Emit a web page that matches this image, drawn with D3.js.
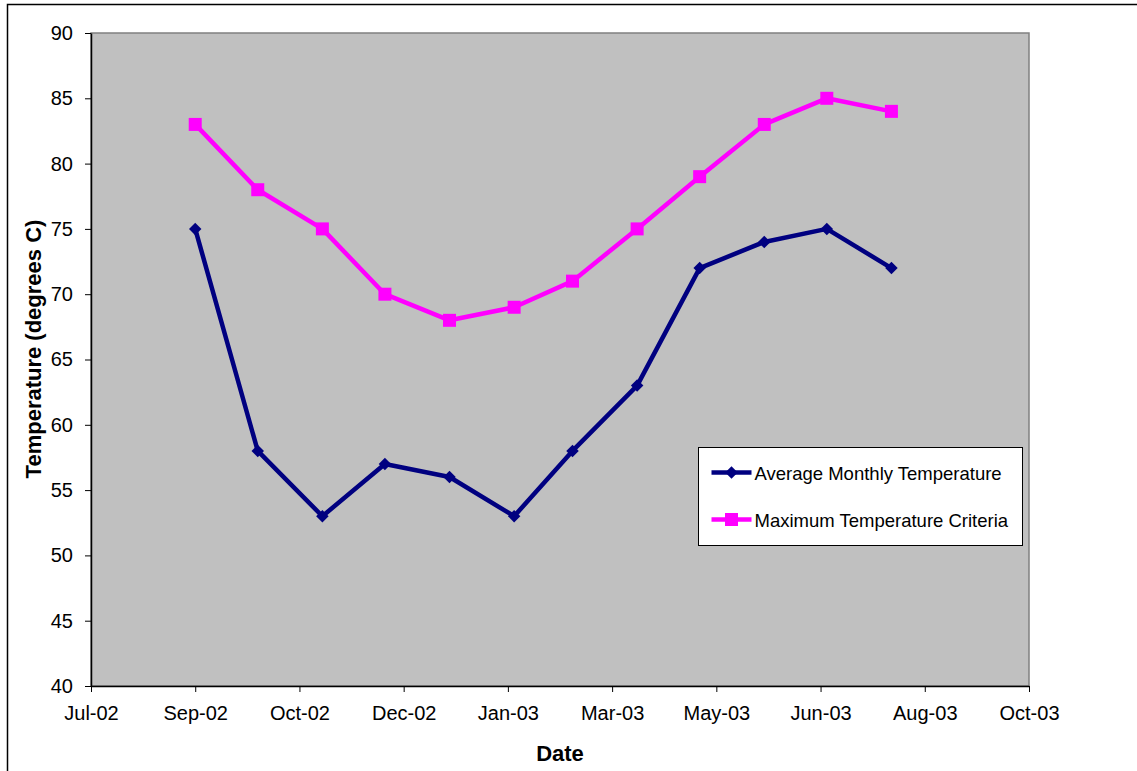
<!DOCTYPE html>
<html>
<head>
<meta charset="utf-8">
<script src="https://cdn.jsdelivr.net/npm/d3@7"></script>
<style>
  body { margin: 0; background: #fff; }
  svg text { font-family: "Liberation Sans", Arial, sans-serif; fill: #000; }
</style>
</head>
<body>
<div id="chart"></div>
<script>
// monthly readings, first of each month
var months = ["2002-09-01", "2002-10-01", "2002-11-01", "2002-12-01", "2003-01-01", "2003-02-01",
              "2003-03-01", "2003-04-01", "2003-05-01", "2003-06-01", "2003-07-01", "2003-08-01"];
var avgTemp = [75, 58, 53, 57, 56, 53, 58, 63, 72, 74, 75, 72];
var maxCriteria = [83, 78, 75, 70, 68, 69, 71, 75, 79, 83, 85, 84];
// excel style axis: 50 day steps
var xTicks = ["2002-07-13", "2002-09-01", "2002-10-21", "2002-12-10", "2003-01-29",
              "2003-03-20", "2003-05-09", "2003-06-28", "2003-08-17", "2003-10-06"];
var yTicks = [40, 45, 50, 55, 60, 65, 70, 75, 80, 85, 90];
var seriesNames = ["Average Monthly Temperature", "Maximum Temperature Criteria"];

var parse = d3.timeParse("%Y-%m-%d");
var width = 1137, height = 771;
var margin = { top: 33, right: 108, bottom: 85, left: 91 };
var w = width - margin.left - margin.right;
var h = height - margin.top - margin.bottom;

var svg = d3.select("#chart").append("svg")
    .attr("width", width)
    .attr("height", height);

// chart frame (runs off the right and bottom edge)
svg.append("rect")
    .attr("x", 7.5).attr("y", 4.5)
    .attr("width", 1140).attr("height", 780)
    .attr("fill", "#fff")
    .attr("stroke", "#000").attr("stroke-width", 1.5);

var g = svg.append("g").attr("transform", "translate(" + margin.left + "," + margin.top + ")");

var x = d3.scaleTime()
    .domain([parse(xTicks[0]), parse(xTicks[xTicks.length - 1])])
    .range([0, w]);
var y = d3.scaleLinear().domain([40, 90]).range([h, 0]);

g.append("rect")
    .attr("width", w).attr("height", h)
    .attr("fill", "#c0c0c0")
    .attr("stroke", "#808080").attr("stroke-width", 1.5);

var xAxis = d3.axisBottom(x)
    .tickValues(xTicks.map(parse))
    .tickFormat(d3.timeFormat("%b-%y"))
    .tickSize(6).tickSizeOuter(0).tickPadding(14);
var yAxis = d3.axisLeft(y)
    .tickValues(yTicks)
    .tickSize(6).tickSizeOuter(0).tickPadding(12);

var gx = g.append("g").attr("transform", "translate(0," + h + ")").call(xAxis);
var gy = g.append("g").call(yAxis);
[gx, gy].forEach(function (a) {
    a.select(".domain").attr("stroke", "#000").attr("stroke-width", 1.5);
    a.selectAll(".tick line").attr("stroke", "#000");
    a.selectAll("text").style("font-size", "20px");
});

svg.append("text")
    .attr("x", margin.left + w / 2).attr("y", 761)
    .attr("text-anchor", "middle")
    .style("font-size", "22px").style("font-weight", "bold")
    .text("Date");
svg.append("text")
    .attr("transform", "translate(41,349) rotate(-90)")
    .attr("text-anchor", "middle")
    .style("font-size", "22px").style("font-weight", "bold")
    .text("Temperature (degrees C)");

var line = d3.line()
    .x(function (d) { return x(d.date); })
    .y(function (d) { return y(d.value); });

function toPoints(vals) {
    return vals.map(function (v, i) { return { date: parse(months[i]), value: v }; });
}

var series = [
    { name: seriesNames[0], color: "#000080", size: 78, rot: 45, points: toPoints(avgTemp) },
    { name: seriesNames[1], color: "#ff00ff", size: 169, rot: 0, points: toPoints(maxCriteria) }
];

series.forEach(function (s) {
    g.append("path")
        .datum(s.points)
        .attr("fill", "none")
        .attr("stroke", s.color)
        .attr("stroke-width", 4.5)
        .attr("stroke-linejoin", "round")
        .attr("d", line);
    g.selectAll(null)
        .data(s.points)
        .enter().append("path")
        .attr("transform", function (d) {
            return "translate(" + x(d.date) + "," + y(d.value) + ") rotate(" + s.rot + ")";
        })
        .attr("d", d3.symbol().type(d3.symbolSquare).size(s.size))
        .attr("fill", s.color);
});

// legend
var legend = svg.append("g").attr("transform", "translate(698.5,447.5)");
legend.append("rect")
    .attr("width", 324).attr("height", 98)
    .attr("fill", "#fff").attr("stroke", "#000").attr("stroke-width", 1);
series.forEach(function (s, i) {
    var ly = 25 + i * 47;
    legend.append("line")
        .attr("x1", 13).attr("x2", 53).attr("y1", ly).attr("y2", ly)
        .attr("stroke", s.color).attr("stroke-width", 4.5);
    legend.append("path")
        .attr("transform", "translate(33," + ly + ") rotate(" + s.rot + ")")
        .attr("d", d3.symbol().type(d3.symbolSquare).size(s.size))
        .attr("fill", s.color);
    legend.append("text")
        .attr("x", 56).attr("y", ly + 7)
        .style("font-size", "18.5px")
        .text(s.name);
});
</script>
</body>
</html>
